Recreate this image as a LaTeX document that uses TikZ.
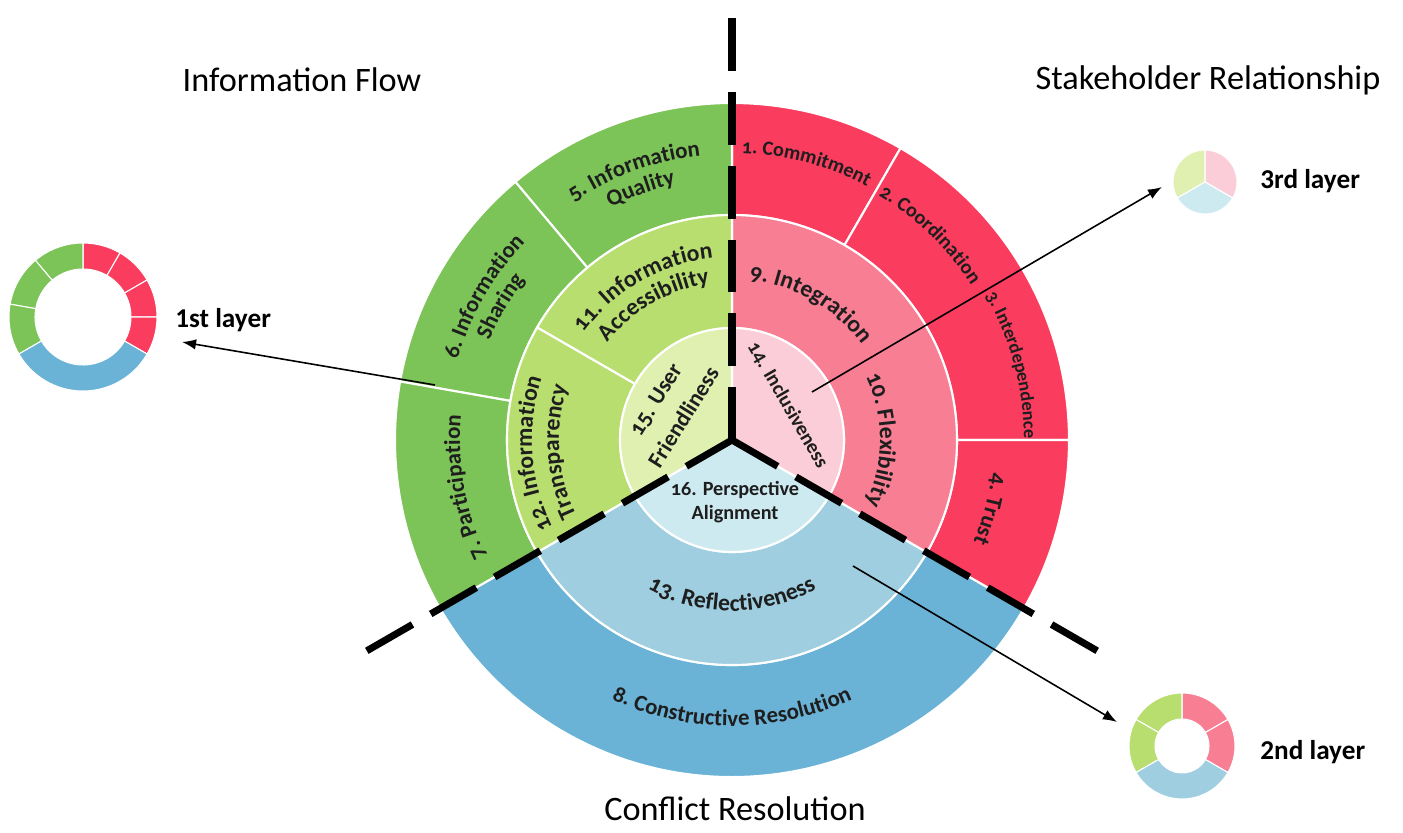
\documentclass[tikz,border=0pt]{standalone}
\usepackage{fontspec}
\setmainfont{Carlito}
\newfontfamily\wheelfont[Numbers=OldStyle]{Carlito}
\usepackage{tikz}
\usetikzlibrary{arrows.meta,decorations.text}

\definecolor{redA}{RGB}{250,60,94}
\definecolor{redB}{RGB}{248,126,148}
\definecolor{redC}{RGB}{251,205,216}
\definecolor{greenA}{RGB}{124,195,88}
\definecolor{greenB}{RGB}{184,222,112}
\definecolor{greenC}{RGB}{223,240,176}
\definecolor{blueA}{RGB}{106,179,214}
\definecolor{blueB}{RGB}{158,206,224}
\definecolor{blueC}{RGB}{206,234,241}
\definecolor{ink}{RGB}{30,30,30}

\newcommand{\lblS}{\wheelfont\bfseries\fontsize{11.5}{14}\selectfont}
\newcommand{\lblT}{\wheelfont\bfseries\fontsize{10.5}{13}\selectfont}
\newcommand{\lblM}{\wheelfont\bfseries\fontsize{13}{17}\selectfont}
\newcommand{\lblL}{\wheelfont\bfseries\fontsize{13.5}{17}\selectfont}

\begin{document}
\begin{tikzpicture}[x=0.02cm,y=0.02cm,
  seg/.style={draw=white,line width=1.2pt},
  mini/.style={draw=white,line width=0.6pt},
  sep/.style={line width=4pt,dash pattern=on 30pt off 12pt},
  arr/.style={-{Latex[length=8pt,width=6pt]},line width=0.9pt},
  title/.style={font=\fontsize{19.5}{22}\selectfont},
  layer/.style={font=\bfseries\fontsize{15.5}{18}\selectfont,anchor=west,inner sep=0pt},
  arctext/.style={decorate,decoration={text along path,text align=center,text color=ink,text={#1}}}]
\useasboundingbox (-732,-392) rectangle (671,440);

% Outer ring
\foreach \a/\b/\col in {60/90/redA, 0/60/redA, -30/0/redA,
    90/130/greenA, 130/170/greenA, 170/210/greenA, 210/330/blueA}
  \filldraw[seg,fill=\col] (\a:225) arc[start angle=\a,end angle=\b,radius=225]
    -- (\b:337) arc[start angle=\b,end angle=\a,radius=337] -- cycle;

% Middle ring
\foreach \a/\b/\col in {-30/90/redB, 90/150/greenB, 150/210/greenB, 210/330/blueB}
  \filldraw[seg,fill=\col] (\a:112) arc[start angle=\a,end angle=\b,radius=112]
    -- (\b:225) arc[start angle=\b,end angle=\a,radius=225] -- cycle;

% Inner disc
\foreach \a/\b/\col in {-30/90/redC, 90/210/greenC, 210/330/blueC}
  \filldraw[seg,fill=\col] (0,0) -- (\a:112) arc[start angle=\a,end angle=\b,radius=112] -- cycle;

% Dashed separators
\foreach \a in {90,210,330}
  \draw[sep] (0,0) -- (\a:430);
\fill (0,0) circle[radius=2pt];

% Outer ring labels
\path[arctext={|\lblS|1. Commitment}] (115:287) arc[start angle=115,end angle=35,radius=287];
\path[arctext={|\lblS|2. Coordination}] (86:285) arc[start angle=86,end angle=6,radius=285];
\path[arctext={|\lblT|3. Interdependence}] (55:292) arc[start angle=55,end angle=-25,radius=292];
\path[arctext={|\lblM|4. Trust}] (25:262) arc[start angle=25,end angle=-55,radius=262];
\path[arctext={|\lblM|5. Information}] (150:286) arc[start angle=150,end angle=70,radius=286];
\path[arctext={|\lblM|Quality}] (150:262) arc[start angle=150,end angle=70,radius=262];
\path[arctext={|\lblM|6. Information}] (190:286) arc[start angle=190,end angle=110,radius=286];
\path[arctext={|\lblM|Sharing}] (190:262) arc[start angle=190,end angle=110,radius=262];
\path[arctext={|\lblM|7. Participation}] (230:272) arc[start angle=230,end angle=150,radius=272];
\path[arctext={|\lblM|8. Constructive Resolution}] (220:286) arc[start angle=220,end angle=320,radius=286];

% Middle ring labels
\path[arctext={|\lblL|9. Integration}] (110:161) arc[start angle=110,end angle=10,radius=161];
\path[arctext={|\lblL|10. Flexibility}] (50:148) arc[start angle=50,end angle=-50,radius=148];
\path[arctext={|\lblL|11. Information}] (170:183) arc[start angle=170,end angle=70,radius=183];
\path[arctext={|\lblL|Accessibility}] (170:158) arc[start angle=170,end angle=70,radius=158];
\path[arctext={|\lblL|12. Information}] (234:200) arc[start angle=234,end angle=134,radius=200];
\path[arctext={|\lblL|Transparency}] (234:173) arc[start angle=234,end angle=134,radius=173];
\path[arctext={|\lblL|13. Reflectiveness}] (215:171) arc[start angle=215,end angle=325,radius=171];

% Inner labels
\node[font=\lblS,text=ink,rotate=-60] (incl) at (32:66) {14. Inclusiveness};
\node[font=\lblM,text=ink,rotate=58,align=center] (user) at (153:70) {15. User\\[2pt]Friendliness};
\node[font=\lblS,text=ink,align=center] (persp) at (3,-62) {16. Perspective\\Alignment};

% Titles
\node[title] (flow) at (-430,360) {Information Flow};
\node[title] (stake) at (476,360) {Stakeholder Relationship};
\node[title] (confl) at (3,-369) {Conflict Resolution};

% 1st layer donut
\begin{scope}[shift={(-649,123)}]
\foreach \a/\b/\col in {60/90/redA, 30/60/redA, 0/30/redA, -30/0/redA,
    90/130/greenA, 130/170/greenA, 170/210/greenA, 210/330/blueA}
  \filldraw[mini,fill=\col] (\a:48) arc[start angle=\a,end angle=\b,radius=48]
    -- (\b:74) arc[start angle=\b,end angle=\a,radius=74] -- cycle;
\end{scope}
\node[layer] (lay1) at (-557,120) {1st layer};

% 2nd layer donut
\begin{scope}[shift={(450,-306)}]
\foreach \a/\b/\col in {30/90/redB, -30/30/redB, 90/150/greenB, 150/210/greenB, 210/330/blueB}
  \filldraw[mini,fill=\col] (\a:27) arc[start angle=\a,end angle=\b,radius=27]
    -- (\b:53) arc[start angle=\b,end angle=\a,radius=53] -- cycle;
\end{scope}
\node[layer] (lay2) at (528,-312) {2nd layer};

% 3rd layer pie
\begin{scope}[shift={(473,258)}]
\foreach \a/\b/\col in {-30/90/redC, 90/210/greenC, 210/330/blueC}
  \filldraw[mini,fill=\col] (0,0) -- (\a:32) arc[start angle=\a,end angle=\b,radius=32] -- cycle;
\end{scope}
\node[layer] (lay3) at (528,259) {3rd layer};

% Pointers
\coordinate (s1) at (-297,55);   \coordinate (e1) at (-550,98);
\coordinate (s2) at (121,-126);  \coordinate (e2) at (385,-282);
\coordinate (s3) at (80,48);     \coordinate (e3) at (430,253);
\draw[arr] (s1) -- (e1);
\draw[arr] (s2) -- (e2);
\draw[arr] (s3) -- (e3);
\end{tikzpicture}
\end{document}
